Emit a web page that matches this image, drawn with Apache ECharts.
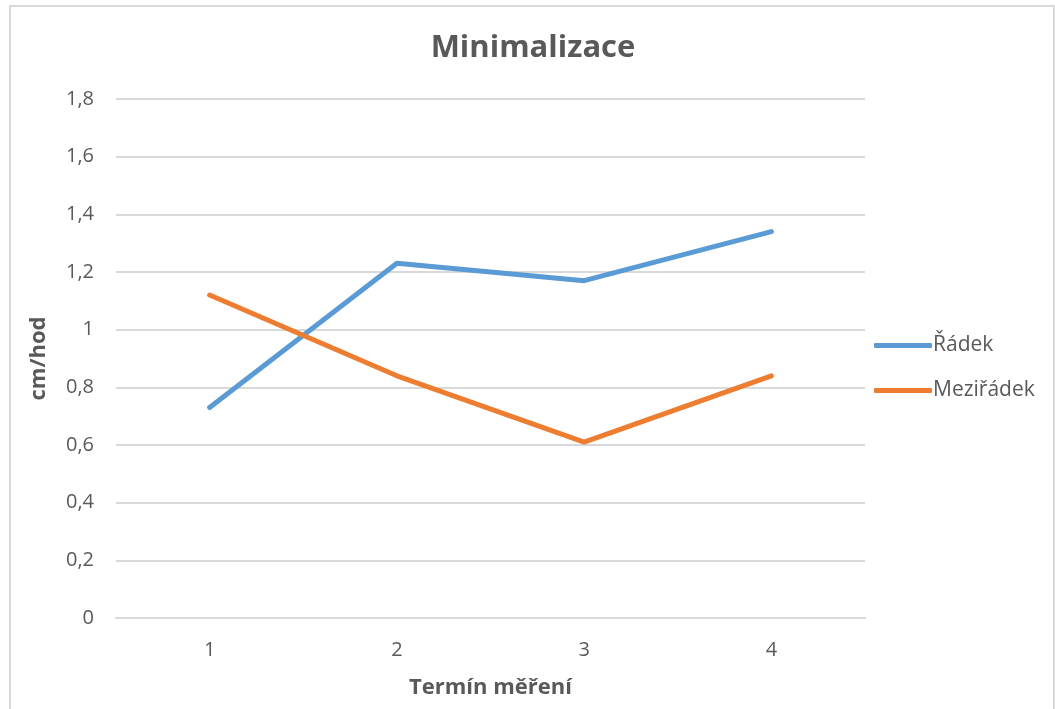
<!DOCTYPE html>
<html><head><meta charset="utf-8">
<script src="https://cdn.jsdelivr.net/npm/echarts@6/dist/echarts.min.js"></script>
<style>html,body{margin:0;padding:0;background:#fff}#c{width:1055px;height:709px}</style>
</head><body><div id="c"></div>
<script>
const categories = ['1', '2', '3', '4'];
const radek = [0.73, 1.23, 1.17, 1.34];
const meziradek = [1.12, 0.84, 0.61, 0.84];
const seriesNames = ['Řádek', 'Meziřádek'];
const FONT = '"Open Sans", sans-serif';
const chart = echarts.init(document.getElementById('c'));
chart.setOption({
  animation: false,
  backgroundColor: '#fff',
  title: { text: 'Minimalizace', left: 528, top: 28, textAlign: 'center',
    textStyle: { fontFamily: FONT, fontSize: 31, fontWeight: 'bold', color: '#595959' } },
  graphic: [{ type: 'rect', shape: { x: 10, y: 6, width: 1044, height: 720 },
    style: { fill: 'none', stroke: '#d9d9d9', lineWidth: 2 } }],
  legend: { orient: 'vertical', left: 869, top: 330, itemWidth: 58, itemHeight: 5, itemGap: 24,
    icon: 'roundRect',
    textStyle: { fontFamily: FONT, fontSize: 21, color: '#595959', padding: [0,0,0,-4] },
    data: seriesNames },
  grid: { left: 116, right: 190, top: 99, bottom: 91 },
  xAxis: { type: 'category', data: categories, boundaryGap: true,
    name: 'Termín měření', nameLocation: 'middle', nameGap: 59,
    nameTextStyle: { fontFamily: FONT, fontSize: 22, fontWeight: 'bold', color: '#595959' },
    axisLine: { lineStyle: { color: '#d9d9d9', width: 2 } }, axisTick: { show: false },
    axisLabel: { fontFamily: FONT, fontSize: 20, color: '#595959', margin: 22 } },
  yAxis: { type: 'value', min: 0, max: 1.8, interval: 0.2,
    name: 'cm/hod', nameLocation: 'middle', nameGap: 66, nameRotate: 90,
    nameTextStyle: { fontFamily: FONT, fontSize: 22, fontWeight: 'bold', color: '#595959' },
    axisLine: { show: false }, axisTick: { show: false },
    splitLine: { lineStyle: { color: '#d9d9d9', width: 2 } },
    axisLabel: { fontFamily: FONT, fontSize: 20, color: '#595959', margin: 22,
      formatter: v => (Math.round(v*10)/10).toString().replace('.', ',') } },
  series: [
    { name: seriesNames[0], type: 'line', data: radek, showSymbol: false, symbol: 'none',
      lineStyle: { color: '#5b9bd5', width: 5, cap: 'round' }, itemStyle: { color: '#5b9bd5' } },
    { name: seriesNames[1], type: 'line', data: meziradek, showSymbol: false, symbol: 'none',
      lineStyle: { color: '#ed7d31', width: 5, cap: 'round' }, itemStyle: { color: '#ed7d31' } }
  ]
});
</script></body></html>
